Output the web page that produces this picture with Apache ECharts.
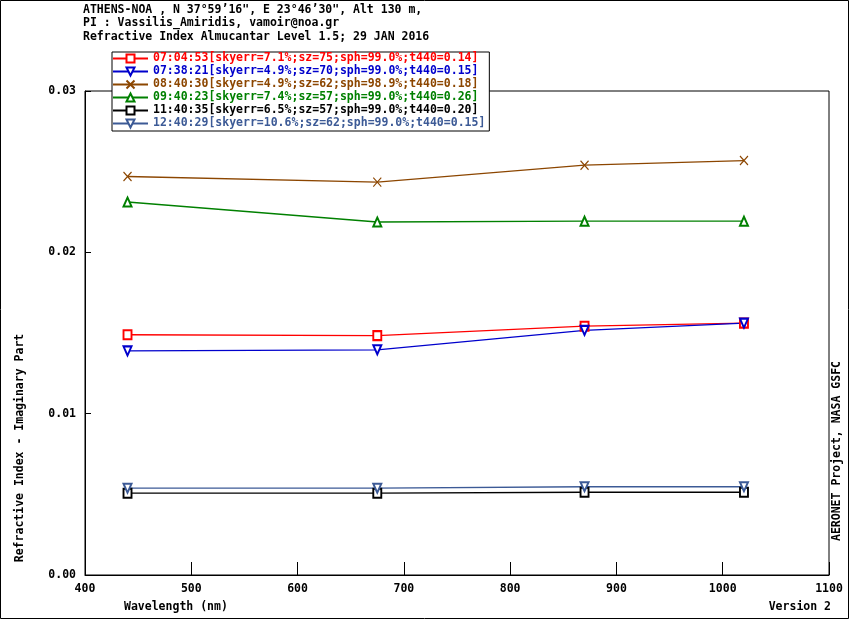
<!DOCTYPE html>
<html>
<head>
<meta charset="utf-8">
<script src="https://cdn.jsdelivr.net/npm/echarts@6/dist/echarts.min.js"></script>
<style>
    html, body { margin: 0; padding: 0; background: #fff; }
    #chart { width: 850px; height: 620px; }
</style>
</head>
<body>
<div id="chart"></div>
<script>
    //波长 (nm)
    var wavelengths = [440, 675, 870, 1020];

    var seriesNames = [
        "07:04:53[skyerr=7.1%;sz=75;sph=99.0%;t440=0.14]",
        "07:38:21[skyerr=4.9%;sz=70;sph=99.0%;t440=0.15]",
        "08:40:30[skyerr=4.9%;sz=62;sph=98.9%;t440=0.18]",
        "09:40:23[skyerr=7.4%;sz=57;sph=99.0%;t440=0.26]",
        "11:40:35[skyerr=6.5%;sz=57;sph=99.0%;t440=0.20]",
        "12:40:29[skyerr=10.6%;sz=62;sph=99.0%;t440=0.15]"
    ];

    var k0704 = [0.01489, 0.01484, 0.01542, 0.01561];
    var k0738 = [0.01389, 0.01396, 0.01516, 0.01561];
    var k0840 = [0.02470, 0.02435, 0.02540, 0.02569];
    var k0940 = [0.02312, 0.02188, 0.02193, 0.02193];
    var k1140 = [0.00507, 0.00507, 0.00513, 0.00513];
    var k1240 = [0.00538, 0.00538, 0.00547, 0.00547];

    var yTicks = [0, 0.01, 0.02, 0.03];
    var xTicks = [400, 500, 600, 700, 800, 900, 1000, 1100];

    var titleLines = [
        "ATHENS-NOA , N 37\u00b059\u201916\", E 23\u00b046\u201930\", Alt 130 m,",
        "PI : Vassilis_Amiridis, vamoir@noa.gr",
        "Refractive Index Almucantar Level 1.5; 29 JAN 2016"
    ];

    var FONT = "'DejaVu Sans Mono', monospace";

    var colors = ["#ff0000", "#0000cc", "#8c4600", "#008000", "#000000", "#3c5a96"];
    var xPath = "path://M0,0L10,10M10,0L0,10";
    var symbols = ["emptyRect", "emptyTriangle", xPath, "emptyTriangle", "emptyRect", "emptyTriangle"];
    var rotates = [0, 180, 0, 0, 0, 180];
    var allData = [k0704, k0738, k0840, k0940, k1140, k1240];

    function pairs(ys) {
        var out = [];
        for (var i = 0; i < wavelengths.length; i++) {
            out.push([wavelengths[i], ys[i]]);
        }
        return out;
    }

    var series = [];
    var legendData = [];
    for (var i = 0; i < seriesNames.length; i++) {
        series.push({
            name: seriesNames[i],
            type: "line",
            data: pairs(allData[i]),
            symbol: symbols[i],
            symbolSize: [8, 9],
            symbolRotate: rotates[i],
            showAllSymbol: true,
            animation: false,
            lineStyle: { color: colors[i], width: 1.3 },
            itemStyle: { color: colors[i], borderColor: colors[i], borderWidth: 1.2 }
        });
        legendData.push({
            name: seriesNames[i],
            textStyle: { color: colors[i] }
        });
    }

    var option = {
        backgroundColor: "#fff",
        animation: false,
        title: {
            text: titleLines.join("\n"),
            left: 83,
            top: 3,
            padding: 0,
            textStyle: {
                fontFamily: FONT,
                fontSize: 11.5,
                fontWeight: "bold",
                color: "#000",
                lineHeight: 13.5
            }
        },
        legend: {
            data: legendData,
            orient: "vertical",
            left: 112,
            top: 52,
            itemWidth: 35,
            itemHeight: 10,
            itemGap: 0,
            padding: [0, 4, 1, 0],
            borderColor: "#000",
            borderWidth: 1,
            backgroundColor: "#fff",
            selectedMode: false,
            textStyle: {
                fontFamily: FONT,
                fontSize: 11.5,
                fontWeight: "bold",
                lineHeight: 13
            }
        },
        grid: {
            left: 85,
            top: 91,
            right: 21,
            bottom: 45,
            show: true,
            borderColor: "#000",
            borderWidth: 1,
            containLabel: false
        },
        xAxis: {
            type: "value",
            min: xTicks[0],
            max: xTicks[xTicks.length - 1],
            interval: 100,
            axisLine: { lineStyle: { color: "#000", width: 1 } },
            axisTick: { inside: true, length: 13, lineStyle: { color: "#000" } },
            splitLine: { show: false },
            axisLabel: {
                margin: 8,
                fontFamily: FONT,
                fontSize: 11.5,
                fontWeight: "bold",
                color: "#000",
                formatter: function (v) { return String(v); }
            }
        },
        yAxis: {
            type: "value",
            min: yTicks[0],
            max: yTicks[yTicks.length - 1],
            interval: 0.01,
            axisLine: { show: true, lineStyle: { color: "#000", width: 1 } },
            axisTick: { show: true, inside: true, length: 6, lineStyle: { color: "#000" } },
            splitLine: { show: false },
            axisLabel: {
                margin: 9,
                fontFamily: FONT,
                fontSize: 11.5,
                fontWeight: "bold",
                color: "#000",
                formatter: function (v) { return v.toFixed(2); }
            }
        },
        graphic: [
            {
                type: "rect",
                silent: true,
                shape: { x: 0.5, y: 0.5, width: 848, height: 618 },
                style: { fill: "none", stroke: "#000", lineWidth: 1 }
            },
            {
                type: "text",
                x: 124,
                y: 607,
                style: {
                    text: "Wavelength (nm)",
                    font: "bold 11.5px " + FONT,
                    fill: "#000",
                    textVerticalAlign: "middle"
                }
            },
            {
                type: "text",
                x: 831,
                y: 607,
                style: {
                    text: "Version 2",
                    font: "bold 11.5px " + FONT,
                    fill: "#000",
                    textAlign: "right",
                    textVerticalAlign: "middle"
                }
            },
            {
                type: "text",
                x: 20,
                y: 448,
                rotation: Math.PI / 2,
                style: {
                    text: "Refractive Index - Imaginary Part",
                    font: "bold 11.5px " + FONT,
                    fill: "#000",
                    textAlign: "center",
                    textVerticalAlign: "middle"
                }
            },
            {
                type: "text",
                x: 837,
                y: 451,
                rotation: Math.PI / 2,
                style: {
                    text: "AERONET Project, NASA GSFC",
                    font: "bold 11.5px " + FONT,
                    fill: "#000",
                    textAlign: "center",
                    textVerticalAlign: "middle"
                }
            }
        ],
        series: series
    };

    var chartObj = echarts.init(document.getElementById("chart"));
    chartObj.setOption(option);
</script>
</body>
</html>
